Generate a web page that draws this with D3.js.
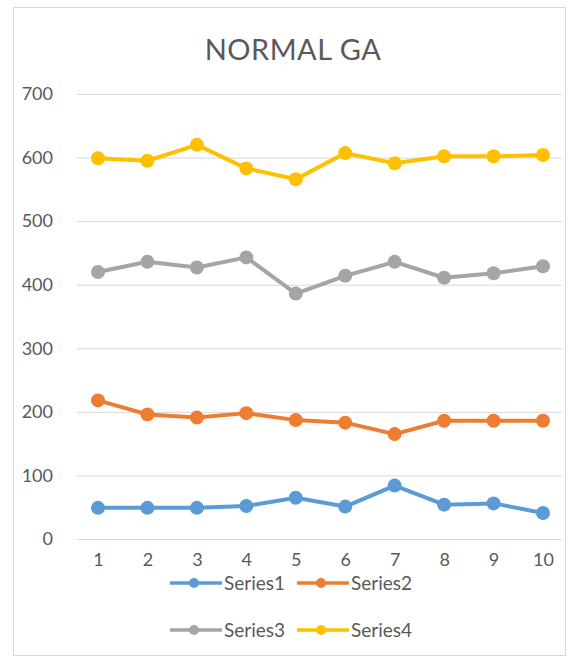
<!DOCTYPE html>
<html>
<head>
<meta charset="utf-8">
<script src="https://cdn.jsdelivr.net/npm/d3@7"></script>
<style>
  body { margin: 0; background: #fff; }
  text { font-family: Lato, 'Open Sans', sans-serif; fill: #595959; }
</style>
</head>
<body>
<script>
var categories = [1, 2, 3, 4, 5, 6, 7, 8, 9, 10];
var series1 = [49, 49, 49, 52, 65, 51, 84, 54, 56, 41];
var series2 = [218, 196, 191, 198, 187, 183, 165, 186, 186, 186];
var series3 = [420, 436, 427, 443, 386, 414, 436, 411, 418, 429];
var series4 = [599, 595, 620, 583, 566, 607, 591, 602, 602, 604];
var seriesNames = ['Series1', 'Series2', 'Series3', 'Series4'];
var seriesColors = ['#5B9BD5', '#ED7D31', '#A5A5A5', '#FFC000'];
var yTicks = [0, 100, 200, 300, 400, 500, 600, 700];
var title = 'NORMAL GA';

var width = 572;
var height = 657;
var svg = d3.select('body').append('svg')
    .attr('width', width)
    .attr('height', height)

// chart frame
svg.append('rect')
    .attr('x', 13.5).attr('y', 7.5)
    .attr('width', 552).attr('height', 648)
    .attr('fill', '#fff')
    .attr('stroke', '#D9D9D9')

svg.append('text')
    .attr('x', 293).attr('y', 60)
    .attr('text-anchor', 'middle')
    .attr('font-size', '29px')
    .attr('letter-spacing', '0.5px')
    .text(title)

var x = d3.scalePoint().domain(categories).range([98, 543]);
var y = d3.scaleLinear().domain([0, 700]).range([539, 94]);

// gridlines + y labels
var yAxis = svg.append('g')
    .attr('transform', 'translate(77,0)')
    .call(d3.axisLeft(y).tickValues(yTicks).tickSize(-485).tickPadding(24))
yAxis.select('.domain').remove()
yAxis.selectAll('line').attr('stroke', '#D9D9D9')
yAxis.selectAll('text').attr('font-size', '18px').attr('fill', '#595959')
    .attr('font-family', 'Lato')

var xAxis = svg.append('g')
    .attr('transform', 'translate(0,539)')
    .call(d3.axisBottom(x).tickSize(0).tickPadding(14))
xAxis.select('.domain').remove()
xAxis.selectAll('text').attr('font-size', '18px').attr('fill', '#595959')
    .attr('font-family', 'Lato')

var allSeries = [series1, series2, series3, series4];
var line = d3.line().x((d, i) => x(categories[i])).y(d => y(d));

allSeries.forEach((vals, k) => {
    var g = svg.append('g')
    g.append('path')
        .datum(vals)
        .attr('d', line)
        .attr('fill', 'none')
        .attr('stroke', seriesColors[k])
        .attr('stroke-width', 4)
        .attr('stroke-linejoin', 'round')
    g.selectAll('circle')
        .data(vals).enter()
        .append('circle')
            .attr('cx', (d, i) => x(categories[i]))
            .attr('cy', d => y(d))
            .attr('r', 7)
            .attr('fill', seriesColors[k])
})

// legend, two rows of two
var legend = svg.append('g')
seriesNames.forEach((name, k) => {
    var lx = 170 + (k % 2) * 127;
    var ly = 583 + Math.floor(k / 2) * 47;
    var item = legend.append('g').attr('transform', 'translate(' + lx + ',' + ly + ')')
    item.append('line')
        .attr('x1', 0).attr('x2', 52)
        .attr('y1', 0).attr('y2', 0)
        .attr('stroke', seriesColors[k])
        .attr('stroke-width', 3.5)
    item.append('circle')
        .attr('cx', 24).attr('cy', 0).attr('r', 5)
        .attr('fill', seriesColors[k])
    item.append('text')
        .attr('x', 54).attr('y', 7)
        .attr('font-size', '19px')
        .text(name)
})
</script>
</body>
</html>
